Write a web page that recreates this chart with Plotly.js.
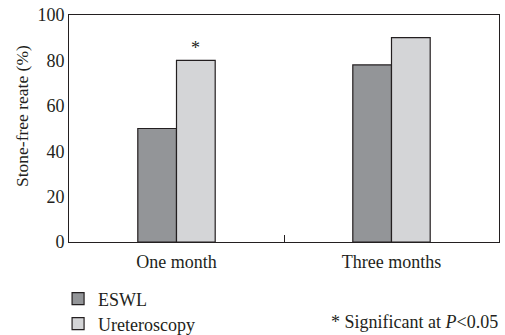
<!DOCTYPE html>
<html>
<head>
<meta charset="utf-8">
<script src="https://cdn.plot.ly/plotly-3.0.1.min.js"></script>
<style>html,body{margin:0;padding:0;background:#fff;}#chart{width:505px;height:335px;}</style>
</head>
<body>
<div id="chart"></div>
<script>
var categories = ["One month", "Three months"];
var eswlValues = [50, 78];
var ureteroscopyValues = [80, 90];
var seriesNames = ["ESWL", "Ureteroscopy"];
var yTickValues = [0, 20, 40, 60, 80, 100];
var yAxisTitle = "Stone-free reate (%)";

var FONT = "Liberation Serif, Times New Roman, serif";
var INK = "#231f20";

var traces = [
  {
    type: "bar", name: seriesNames[0], x: categories, y: eswlValues, legend: "legend",
    marker: {color: "#939598", line: {color: INK, width: 1.2}}
  },
  {
    type: "bar", name: seriesNames[1], x: categories, y: ureteroscopyValues, legend: "legend2",
    marker: {color: "#d4d5d7", line: {color: INK, width: 1.2}}
  }
];

function legendAt(yc) {
  return {
    xref: "container", yref: "container",
    x: 0.115, xanchor: "left", y: yc, yanchor: "middle",
    bgcolor: "rgba(0,0,0,0)", borderwidth: 0,
    font: {family: FONT, size: 18, color: INK}
  };
}

var layout = {
  width: 505, height: 335,
  margin: {l: 69, r: 6, t: 15, b: 93, autoexpand: false},
  paper_bgcolor: "#fff", plot_bgcolor: "#fff",
  font: {family: FONT, size: 17, color: INK},
  barmode: "group", bargap: 0.64, bargroupgap: 0,
  showlegend: true,
  legend: legendAt(1 - 299 / 335),
  legend2: legendAt(1 - 324 / 335),
  xaxis: {
    type: "category", range: [-0.5, 1.5],
    showline: true, mirror: true, linecolor: INK, linewidth: 1,
    ticks: "inside", tickson: "boundaries", ticklen: 7, tickcolor: INK, tickwidth: 1,
    showgrid: false, zeroline: false, ticklabelstandoff: 3,
    tickfont: {family: FONT, size: 18, color: INK}
  },
  yaxis: {
    range: [0, 100], tickvals: yTickValues,
    showline: true, mirror: true, linecolor: INK, linewidth: 1,
    ticks: "", showgrid: false, zeroline: false,
    tickfont: {family: FONT, size: 18, color: INK}
  },
  annotations: [
    {
      x: 0, y: 0.555, xref: "paper", yref: "paper", xanchor: "center", yanchor: "middle",
      xshift: -47, textangle: -90, showarrow: false, text: yAxisTitle,
      font: {family: FONT, size: 17.5, color: INK}
    },
    {
      x: 0.09, y: ureteroscopyValues[0], xref: "x", yref: "y",
      text: "*", showarrow: false, yanchor: "bottom", yshift: 0,
      font: {family: FONT, size: 18, color: INK}
    },
    {
      x: 1.002, y: -0.352, xref: "paper", yref: "paper",
      xanchor: "right", yanchor: "middle", showarrow: false,
      text: "* Significant at <i>P</i>&lt;0.05",
      font: {family: FONT, size: 18, color: INK}
    }
  ]
};

Plotly.newPlot("chart", traces, layout, {displayModeBar: false, staticPlot: true});
</script>
</body>
</html>
